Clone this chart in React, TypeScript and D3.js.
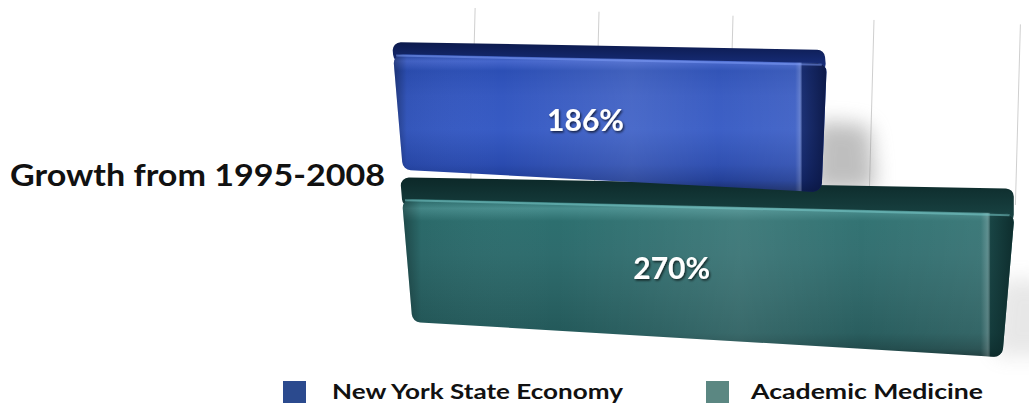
import React from "react";
import * as d3 from "d3";

// ---------- data ----------
const categories = ["Growth from 1995-2008"];
const seriesNames = ["New York State Economy", "Academic Medicine"];
const seriesValues = [186, 270];
const valueLabels = ["186%", "270%"];
const gridTicks = [50, 100, 150, 200, 250];

// ---------- styles ----------
const W = 1029;
const H = 406;
const FONT = "Lato, 'Open Sans', 'DejaVu Sans', sans-serif";
const legendColors = ["#2b4a8e", "#5b8782"];
const barStyles = [
  {
    top: ["#0c1a4c", "#1a3286"],
    front: [
      ["0%", "#2848a6"],
      ["5%", "#4566cc"],
      ["12%", "#2c4fb5"],
      ["30%", "#3558c0"],
      ["55%", "#375bc4"],
      ["80%", "#2a4baf"],
      ["92%", "#1d3a94"],
      ["100%", "#112562"],
    ],
    lip: "rgba(130,160,250,0.5)",
    cap: "#0a1540",
  },
  {
    top: ["#0c2828", "#1a4646"],
    front: [
      ["0%", "#296969"],
      ["6%", "#478d8d"],
      ["14%", "#2d6f6f"],
      ["35%", "#2e6c6d"],
      ["60%", "#2a6364"],
      ["85%", "#23595a"],
      ["95%", "#1a4647"],
      ["100%", "#0f2f30"],
    ],
    lip: "rgba(120,200,200,0.55)",
    cap: "#0b2828",
  },
];

// ---------- geometry helper (perspective-ish projection per bar) ----------
function proj(u: number, Y: number, barTop: number): [number, number] {
  const d = Y - barTop;
  const bf = 1 - (barTop - 42) * 0.00018;
  const f = bf * (1 - d * 0.0003);
  const x = 392 + (barTop - 42) * 0.06 + d * 0.085 + u * f;
  const s = 0.018 + d * 0.00026;
  return [x, Y + u * s];
}

function roundedPoly(pts: [number, number][], r: number) {
  const p = d3.path();
  const n = pts.length;
  const last = pts[n - 1];
  const first = pts[0];
  p.moveTo((last[0] + first[0]) / 2, (last[1] + first[1]) / 2);
  for (let i = 0; i < n; i++) {
    const a = pts[i];
    const b = pts[(i + 1) % n];
    p.arcTo(a[0], a[1], b[0], b[1], r);
  }
  p.closePath();
  return p.toString();
}

export default function App() {
  const xScale = d3.scaleLinear().domain([0, 270]).range([0, 632]);
  const yBand = d3
    .scaleBand<string>()
    .domain(seriesNames)
    .range([0, 1])
    .paddingInner(0.05);
  const yPersp = d3.scalePow().exponent(1.09).domain([0, 1]).range([42, 322]);
  const gridX = d3
    .scalePow()
    .exponent(1.15)
    .domain([0, 250])
    .range([373.5, 1020.4]);

  const bars = seriesNames.map((name, i) => {
    const w = xScale(seriesValues[i]);
    const v0 = yBand(name) as number;
    const Yt = yPersp(v0);
    const Yb = yPersp(v0 + yBand.bandwidth());
    const depth = 12 + (Yt - 42) * 0.07;
    const Yf = Yt + depth;
    const P = (u: number, Y: number) => proj(u, Y, Yt);
    const front = roundedPoly([P(0, Yf), P(w, Yf), P(w, Yb), P(0, Yb)], 9);
    const top = roundedPoly(
      [P(0, Yf + 8), P(0, Yt), P(w - 3, Yt), P(w, Yf + 8)],
      8
    );
    const [lx1, ly1] = P(3, Yf + 1.5);
    const [lx2, ly2] = P(w - 5, Yf + 1.5);
    const lu = w * 0.44;
    const [tx, ty] = P(lu, (Yf + Yb) / 2);
    const capFrac = 1 - 27 / (P(w, Yf)[0] - P(0, Yf)[0]);
    const sy = Yf + (Yb - Yf) * 0.45;
    const shadowPts: [number, number][] = [
      P(w - 10, sy),
      [P(w, sy)[0] + 45, P(w, sy)[1] + 4],
      [P(w, Yb)[0] + 55, P(w, Yb)[1] - 2],
      P(w - 10, Yb),
    ];
    return { name, i, w, front, top, lip: [lx1, ly1, lx2, ly2], tx, ty, capFrac, shadowPts };
  });

  return (
    <svg
      width={W}
      height={H}
      style={{ position: "fixed", left: 0, top: 0, background: "#ffffff" }}
    >
      <defs>
        <filter id="blur" x="-50%" y="-50%" width="200%" height="200%">
          <feGaussianBlur stdDeviation="10" />
        </filter>
        <filter id="txtShadow" x="-20%" y="-20%" width="140%" height="140%">
          <feDropShadow dx="1.2" dy="1.5" stdDeviation="1.2" floodColor="#000" floodOpacity="0.7" />
        </filter>
        {bars.map((b) => (
          <React.Fragment key={b.name}>
            <linearGradient id={`front${b.i}`} x1="0" y1="0" x2="0" y2="1">
              {barStyles[b.i].front.map(([o, c]) => (
                <stop key={o} offset={o} stopColor={c} />
              ))}
            </linearGradient>
            <linearGradient id={`hor${b.i}`} x1="0" y1="0" x2="1" y2="0">
              <stop offset="0%" stopColor="#000" stopOpacity="0.35" />
              <stop offset="3%" stopColor="#000" stopOpacity="0.05" />
              <stop offset="25%" stopColor="#fff" stopOpacity="0.0" />
              <stop offset="55%" stopColor="#fff" stopOpacity="0.1" />
              <stop offset="75%" stopColor="#fff" stopOpacity="0.03" />
              <stop offset={`${b.capFrac * 100 - 1}%`} stopColor="#fff" stopOpacity="0.08" />
              <stop offset={`${b.capFrac * 100}%`} stopColor="#fff" stopOpacity="0.22" />
              <stop offset={`${b.capFrac * 100 + 0.6}%`} stopColor={barStyles[b.i].cap} stopOpacity="0.6" />
              <stop offset="100%" stopColor={barStyles[b.i].cap} stopOpacity="0.92" />
            </linearGradient>
            <linearGradient id={`top${b.i}`} x1="0" y1="0" x2="0" y2="1">
              <stop offset="0%" stopColor={barStyles[b.i].top[0]} />
              <stop offset="100%" stopColor={barStyles[b.i].top[1]} />
            </linearGradient>
          </React.Fragment>
        ))}
      </defs>

      {/* gridlines (back wall) */}
      <g>
        {gridTicks.map((t) => {
          const gx = gridX(t);
          const y1 = 8 + (gx - 475) * 0.03;
          return (
            <line
              key={t}
              x1={gx}
              y1={y1}
              x2={gx - 5}
              y2={205}
              stroke="#cfcfcf"
              strokeWidth={1}
            />
          );
        })}
      </g>

      {/* shadows */}
      {bars.map((b) => (
        <path
          key={`sh${b.name}`}
          d={roundedPoly(b.shadowPts, 10)}
          fill="#8a8a8a"
          opacity={b.i === 0 ? 0.55 : 0.2}
          filter="url(#blur)"
        />
      ))}

      {/* bars: lower first so the upper bar overlaps it */}
      {[...bars].reverse().map((b) => (
        <g key={b.name}>
          <path d={b.top} fill={`url(#top${b.i})`} />
          <path d={b.front} fill={`url(#front${b.i})`} />
          <path d={b.front} fill={`url(#hor${b.i})`} />
          <line
            x1={b.lip[0]}
            y1={b.lip[1]}
            x2={b.lip[2]}
            y2={b.lip[3]}
            stroke={barStyles[b.i].lip}
            strokeWidth={2}
          />
          <text
            x={b.tx}
            y={b.ty + (b.i === 0 ? 4 : 0)}
            textAnchor="middle"
            dominantBaseline="middle"
            fill="#ffffff"
            fontFamily={FONT}
            fontWeight="bold"
            fontSize={30}
            filter="url(#txtShadow)"
          >
            {valueLabels[b.i]}
          </text>
        </g>
      ))}

      {/* category label */}
      <text
        x={10}
        y={186}
        fontFamily={FONT}
        fontWeight="bold"
        fontSize={30}
        fill="#111"
        textLength={375}
        lengthAdjust="spacingAndGlyphs"
      >
        {categories[0]}
      </text>

      {/* legend */}
      {seriesNames.map((name, i) => {
        const lx = [283, 706][i];
        const tl = [291, 232][i];
        return (
          <g key={`lg${name}`}>
            <rect x={lx} y={381} width={23} height={22} fill={legendColors[i]} />
            <text
              x={lx + 49 - (i === 1 ? 4 : 0)}
              y={399}
              fontFamily={FONT}
              fontWeight="bold"
              fontSize={20}
              fill="#111"
              textLength={tl}
              lengthAdjust="spacingAndGlyphs"
            >
              {name}
            </text>
          </g>
        );
      })}
    </svg>
  );
}
